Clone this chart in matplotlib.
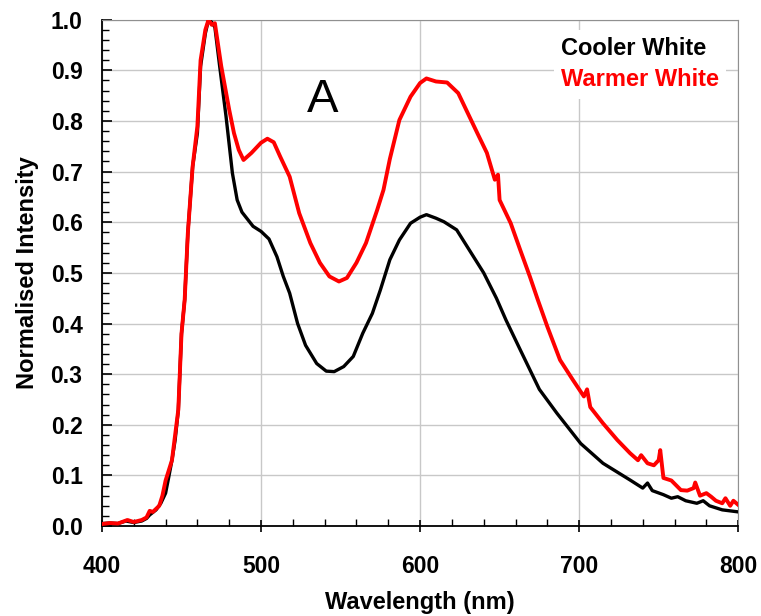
import numpy as np
import matplotlib.pyplot as plt
from matplotlib.ticker import MultipleLocator

plt.rcParams['font.family'] = ['Liberation Sans', 'DejaVu Sans']

# Cooler White spectrum
wl_cool = [400, 405, 410, 415, 420, 425, 428, 430, 434, 437, 440, 442, 444, 446, 448,
           450, 452, 454, 457, 460, 462, 465, 467, 469, 471, 474, 478, 482, 485, 488,
           491, 495, 500, 505, 510, 514, 518, 523, 528, 535, 541, 546, 552, 558, 564,
           570, 575, 581, 587, 594, 600, 604, 610, 615, 623, 631, 640, 648, 654, 663,
           675, 686, 701, 715, 732, 740, 743, 746, 753, 758, 762, 767, 774, 778, 782,
           790, 795, 800]
int_cool = [0.005, 0.006, 0.005, 0.010, 0.007, 0.010, 0.015, 0.022, 0.032, 0.045, 0.065,
            0.097, 0.130, 0.170, 0.229, 0.380, 0.447, 0.579, 0.710, 0.776, 0.908, 0.973,
            1.000, 0.995, 0.985, 0.908, 0.809, 0.697, 0.644, 0.620, 0.608, 0.592, 0.582,
            0.567, 0.532, 0.493, 0.460, 0.400, 0.357, 0.321, 0.306, 0.305, 0.315, 0.335,
            0.381, 0.420, 0.466, 0.526, 0.565, 0.598, 0.610, 0.615, 0.608, 0.601, 0.585,
            0.545, 0.500, 0.450, 0.407, 0.348, 0.270, 0.223, 0.163, 0.124, 0.091, 0.075,
            0.085, 0.070, 0.062, 0.055, 0.058, 0.050, 0.045, 0.050, 0.040, 0.032, 0.030,
            0.028]

# Warmer White spectrum
wl_warm = [400, 405, 410, 416, 420, 425, 428, 430, 432, 436, 438, 440, 441, 444, 446,
           448, 450, 452, 454, 457, 460, 462, 465, 467, 469, 471, 475, 480, 483, 486,
           489, 494, 500, 504, 508, 512, 518, 524, 531, 537, 543, 549, 554, 560, 566,
           573, 577, 581, 587, 594, 600, 604, 610, 617, 624, 629, 636, 642, 647, 649,
           650, 657, 663, 669, 674, 680, 688, 696, 703, 705, 707, 715, 724, 732, 737,
           739, 743, 747, 750, 751, 753, 758, 764, 768, 772, 773, 776, 780, 783, 786,
           790, 792, 795, 797, 800]
int_warm = [0.004, 0.006, 0.005, 0.012, 0.008, 0.012, 0.017, 0.030, 0.028, 0.040, 0.060,
            0.090, 0.100, 0.130, 0.180, 0.230, 0.380, 0.447, 0.579, 0.710, 0.790, 0.920,
            0.980, 1.000, 0.990, 0.993, 0.908, 0.822, 0.776, 0.743, 0.723, 0.737, 0.757,
            0.765, 0.758, 0.730, 0.690, 0.618, 0.559, 0.520, 0.493, 0.483, 0.490, 0.520,
            0.559, 0.624, 0.664, 0.725, 0.802, 0.848, 0.875, 0.884, 0.878, 0.876, 0.855,
            0.822, 0.776, 0.737, 0.684, 0.694, 0.644, 0.598, 0.545, 0.493, 0.447, 0.394,
            0.328, 0.289, 0.256, 0.270, 0.235, 0.203, 0.170, 0.144, 0.130, 0.140, 0.124,
            0.120, 0.130, 0.150, 0.095, 0.090, 0.071, 0.070, 0.075, 0.086, 0.060, 0.065,
            0.058, 0.050, 0.045, 0.055, 0.040, 0.050, 0.042]

fig = plt.figure(figsize=(7.61, 6.16), dpi=100)
ax = fig.add_axes([0.134, 0.146, 0.836, 0.822])

ax.plot(wl_cool, int_cool, color="black", lw=2.4, label="Cooler White", zorder=3)
ax.plot(wl_warm, int_warm, color="red", lw=2.8, label="Warmer White", zorder=4)

ax.set_xlim(400, 800)
ax.set_ylim(0, 1.0)
ax.xaxis.set_major_locator(MultipleLocator(100))
ax.xaxis.set_minor_locator(MultipleLocator(20))
ax.yaxis.set_major_locator(MultipleLocator(0.1))
ax.yaxis.set_minor_locator(MultipleLocator(0.02))
ax.yaxis.set_major_formatter(plt.FormatStrFormatter("%.1f"))
ax.grid(True, which="major", color="#c8c8c8", lw=1.0, zorder=0)
ax.set_axisbelow(True)

ax.tick_params(axis="x", which="major", direction="inout", length=8, width=1.2,
               labelsize=16.5, pad=17)
ax.tick_params(axis="x", which="minor", direction="in", length=5, width=1.0)
ax.tick_params(axis="y", which="major", direction="in", length=7, width=1.2,
               labelsize=16.5, pad=14)
ax.tick_params(axis="y", which="minor", direction="in", length=5, width=1.0)
for lab in ax.get_xticklabels() + ax.get_yticklabels():
    lab.set_fontweight("bold")

for s in ["top", "right"]:
    ax.spines[s].set_color("#909090")
for s in ["left", "bottom"]:
    ax.spines[s].set_color("black")
    ax.spines[s].set_linewidth(1.3)

ax.set_xlabel("Wavelength (nm)", fontsize=17, fontweight="bold", labelpad=9)
ax.set_ylabel("Normalised Intensity", fontsize=17, fontweight="bold", labelpad=8)

leg = ax.legend(loc="upper right", handlelength=0, handletextpad=0,
                prop={"weight": "bold", "size": 17}, labelcolor="linecolor",
                frameon=True, framealpha=1, edgecolor="none", borderpad=0.3,
                borderaxespad=0, labelspacing=0.36, bbox_to_anchor=(0.981, 0.980))
for h in leg.legend_handles:
    h.set_visible(False)

ax.text(539, 0.842, "A", fontsize=34, ha="center", va="center")

fig.savefig("out.png", dpi=100)
